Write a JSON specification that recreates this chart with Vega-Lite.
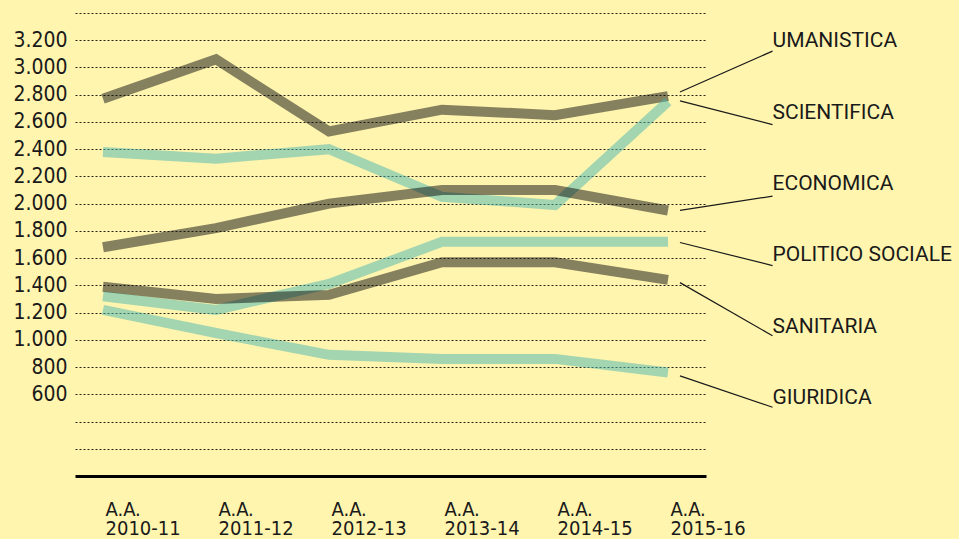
{
  "$schema": "https://vega.github.io/schema/vega-lite/v6.json",
  "width": 631,
  "height": 463,
  "autosize": {"type": "none"},
  "padding": {"left": 75, "top": 13, "right": 253, "bottom": 63},
  "background": "#fff5af",
  "config": {
    "view": {"stroke": null},
    "font": "DejaVu Sans Condensed"
  },
  "datasets": {
    "serie": [
      {"serie": "UMANISTICA", "i": 0, "anno": "2010-11", "valore": 2770},
      {"serie": "UMANISTICA", "i": 1, "anno": "2011-12", "valore": 3060},
      {"serie": "UMANISTICA", "i": 2, "anno": "2012-13", "valore": 2530},
      {"serie": "UMANISTICA", "i": 3, "anno": "2013-14", "valore": 2690},
      {"serie": "UMANISTICA", "i": 4, "anno": "2014-15", "valore": 2650},
      {"serie": "UMANISTICA", "i": 5, "anno": "2015-16", "valore": 2790},
      {"serie": "SCIENTIFICA", "i": 0, "anno": "2010-11", "valore": 2380},
      {"serie": "SCIENTIFICA", "i": 1, "anno": "2011-12", "valore": 2330},
      {"serie": "SCIENTIFICA", "i": 2, "anno": "2012-13", "valore": 2400},
      {"serie": "SCIENTIFICA", "i": 3, "anno": "2013-14", "valore": 2050},
      {"serie": "SCIENTIFICA", "i": 4, "anno": "2014-15", "valore": 1990},
      {"serie": "SCIENTIFICA", "i": 5, "anno": "2015-16", "valore": 2750},
      {"serie": "ECONOMICA", "i": 0, "anno": "2010-11", "valore": 1680},
      {"serie": "ECONOMICA", "i": 1, "anno": "2011-12", "valore": 1820},
      {"serie": "ECONOMICA", "i": 2, "anno": "2012-13", "valore": 2000},
      {"serie": "ECONOMICA", "i": 3, "anno": "2013-14", "valore": 2100},
      {"serie": "ECONOMICA", "i": 4, "anno": "2014-15", "valore": 2100},
      {"serie": "ECONOMICA", "i": 5, "anno": "2015-16", "valore": 1950},
      {"serie": "POLITICO SOCIALE", "i": 0, "anno": "2010-11", "valore": 1320},
      {"serie": "POLITICO SOCIALE", "i": 1, "anno": "2011-12", "valore": 1220},
      {"serie": "POLITICO SOCIALE", "i": 2, "anno": "2012-13", "valore": 1410},
      {"serie": "POLITICO SOCIALE", "i": 3, "anno": "2013-14", "valore": 1720},
      {"serie": "POLITICO SOCIALE", "i": 4, "anno": "2014-15", "valore": 1720},
      {"serie": "POLITICO SOCIALE", "i": 5, "anno": "2015-16", "valore": 1720},
      {"serie": "SANITARIA", "i": 0, "anno": "2010-11", "valore": 1390},
      {"serie": "SANITARIA", "i": 1, "anno": "2011-12", "valore": 1300},
      {"serie": "SANITARIA", "i": 2, "anno": "2012-13", "valore": 1330},
      {"serie": "SANITARIA", "i": 3, "anno": "2013-14", "valore": 1570},
      {"serie": "SANITARIA", "i": 4, "anno": "2014-15", "valore": 1570},
      {"serie": "SANITARIA", "i": 5, "anno": "2015-16", "valore": 1440},
      {"serie": "GIURIDICA", "i": 0, "anno": "2010-11", "valore": 1220},
      {"serie": "GIURIDICA", "i": 1, "anno": "2011-12", "valore": 1050},
      {"serie": "GIURIDICA", "i": 2, "anno": "2012-13", "valore": 890},
      {"serie": "GIURIDICA", "i": 3, "anno": "2013-14", "valore": 860},
      {"serie": "GIURIDICA", "i": 4, "anno": "2014-15", "valore": 860},
      {"serie": "GIURIDICA", "i": 5, "anno": "2015-16", "valore": 760}
    ],
    "etichette": [
      {"serie": "UMANISTICA", "inizio": 2820, "fine": 3120, "testo": 3150},
      {"serie": "SCIENTIFICA", "inizio": 2755, "fine": 2580, "testo": 2620},
      {"serie": "ECONOMICA", "inizio": 1950, "fine": 2055, "testo": 2100},
      {"serie": "POLITICO SOCIALE", "inizio": 1715, "fine": 1545, "testo": 1577},
      {"serie": "SANITARIA", "inizio": 1420, "fine": 1030, "testo": 1050},
      {"serie": "GIURIDICA", "inizio": 735, "fine": 505, "testo": 527}
    ]
  },
  "layer": [
    {
      "data": {"name": "serie"},
      "mark": {"type": "line", "strokeWidth": 10, "strokeCap": "butt", "strokeJoin": "miter", "opacity": 0.5, "clip": false},
      "encoding": {
        "x": {
          "field": "i", "type": "quantitative",
          "scale": {"domain": [-0.2478, 5.3363], "nice": false, "zero": false},
          "axis": {
            "orient": "bottom", "title": null, "values": [0, 1, 2, 3, 4, 5], "tickCount": 10,
            "domain": true, "domainColor": "#000000", "domainWidth": 3,
            "ticks": false, "grid": false,
            "labelExpr": "['A.A.', ['2010-11','2011-12','2012-13','2013-14','2014-15','2015-16'][datum.value]]",
            "labelAlign": "left", "labelBaseline": "top", "labelPadding": 23, "labelOffset": 2,
            "labelFontSize": 20, "labelLineHeight": 19, "labelColor": "#1a1a1a",
            "labelFlush": false, "labelOverlap": false, "labelBound": false
          }
        },
        "y": {
          "field": "valore", "type": "quantitative",
          "scale": {"domain": [0, 3400], "nice": false},
          "axis": {
            "title": null, "domain": false, "ticks": false, "tickCount": 30,
            "values": [200, 400, 600, 800, 1000, 1200, 1400, 1600, 1800, 2000, 2200, 2400, 2600, 2800, 3000, 3200, 3400],
            "grid": true, "gridColor": "#000000", "gridDash": [2, 2], "gridWidth": 1, "gridOpacity": 0.85,
            "labelExpr": "datum.value >= 600 && datum.value <= 3200 ? replace(format(datum.value, ','), ',', '.') : ''",
            "labelPadding": 8, "labelFontSize": 21, "labelColor": "#1a1a1a", "labelOverlap": false
          }
        },
        "detail": {"field": "serie"},
        "color": {
          "field": "serie", "type": "nominal",
          "scale": {
            "domain": ["UMANISTICA", "SCIENTIFICA", "ECONOMICA", "POLITICO SOCIALE", "SANITARIA", "GIURIDICA"],
            "range": ["#0b0b0b", "#45b5b1", "#0b0b0b", "#45b5b1", "#0b0b0b", "#45b5b1"]
          },
          "legend": null
        }
      }
    },
    {
      "data": {"name": "etichette"},
      "mark": {"type": "rule", "color": "#1a1a1a", "strokeWidth": 1.2},
      "encoding": {
        "x": {"datum": 5.106, "type": "quantitative"},
        "x2": {"datum": 5.925},
        "y": {"field": "inizio", "type": "quantitative"},
        "y2": {"field": "fine"}
      }
    },
    {
      "data": {"name": "etichette"},
      "mark": {"type": "text", "align": "left", "baseline": "alphabetic", "font": "Roboto", "fontSize": 21, "color": "#1a1a1a"},
      "encoding": {
        "x": {"datum": 5.925, "type": "quantitative"},
        "y": {"field": "testo", "type": "quantitative"},
        "text": {"field": "serie"}
      }
    }
  ]
}
